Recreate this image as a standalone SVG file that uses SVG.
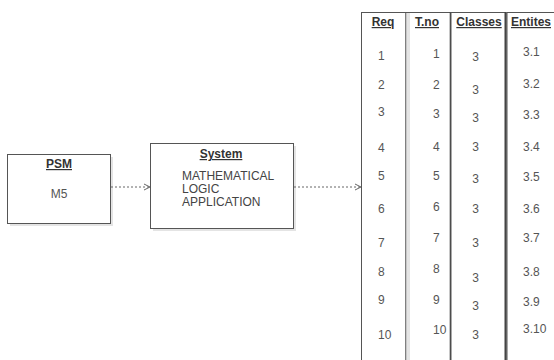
<svg xmlns="http://www.w3.org/2000/svg" width="554" height="360" viewBox="0 0 554 360">
  <defs>
    <marker id="open-arrow" markerWidth="8" markerHeight="8" refX="7" refY="4" orient="auto" markerUnits="userSpaceOnUse">
      <path d="M1,1 L7,4 L1,7" fill="none" stroke="#666" stroke-width="1"/>
    </marker>
  </defs>
  <style>
    .box { fill: #ffffff; stroke: #555555; stroke-width: 1; }
    .shadow { fill: #e4e4e4; }
    .title { font-family: "Liberation Sans", Arial, sans-serif; font-size: 12px; font-weight: bold; fill: #333333; text-decoration: underline; }
    .body { font-family: "Liberation Sans", Arial, sans-serif; font-size: 12px; fill: #444444; }
    .cell { font-family: "Liberation Sans", Arial, sans-serif; font-size: 12px; fill: #555555; }
    .mid { text-anchor: middle; }
    .dep { fill: none; stroke: #666666; stroke-width: 1; stroke-dasharray: 2 2; }
  </style>
  <rect width="554" height="360" fill="#ffffff"/>

  <!-- PSM node -->
  <g id="psm">
    <rect class="shadow" x="10" y="157" width="103" height="69"/>
    <rect class="box" x="7.5" y="154.5" width="103" height="69"/>
    <text class="title mid" x="59" y="168">PSM</text>
    <text class="cell mid" x="59" y="198">M5</text>
  </g>

  <!-- System node -->
  <g id="system">
    <rect class="shadow" x="153" y="146" width="143" height="85"/>
    <rect class="box" x="150.5" y="143.5" width="143" height="85"/>
    <text class="title mid" x="221" y="158">System</text>
    <text class="body" x="182" y="180">MATHEMATICAL</text>
    <text class="body" x="182" y="193">LOGIC</text>
    <text class="body" x="182" y="206">APPLICATION</text>
  </g>

  <!-- Requirement table columns -->
  <g id="col-req">
    <rect class="shadow" x="364" y="15" width="45" height="360"/>
    <rect class="box" x="361.5" y="12.5" width="44.5" height="360"/>
    <text class="title mid" x="383" y="26">Req</text>
    <g class="cell">
      <text x="378" y="60">1</text>
      <text x="378" y="89">2</text>
      <text x="378" y="116">3</text>
      <text x="378" y="152">4</text>
      <text x="378" y="180">5</text>
      <text x="378" y="213">6</text>
      <text x="378" y="247">7</text>
      <text x="378" y="276">8</text>
      <text x="378" y="304">9</text>
      <text x="378" y="339">10</text>
    </g>
  </g>

  <g id="col-tno">
    <rect class="box" x="406" y="12.5" width="44.5" height="360"/>
    <rect class="shadow" x="406.5" y="13" width="3.5" height="360"/>
    <line x1="450.5" y1="12" x2="450.5" y2="360" stroke="#444" stroke-width="1.6"/>
    <text class="title mid" x="427" y="26">T.no</text>
    <g class="cell">
      <text x="433" y="58">1</text>
      <text x="433" y="89">2</text>
      <text x="433" y="118">3</text>
      <text x="433" y="151">4</text>
      <text x="433" y="180">5</text>
      <text x="433" y="211">6</text>
      <text x="433" y="242">7</text>
      <text x="433" y="273">8</text>
      <text x="433" y="304">9</text>
      <text x="433" y="334">10</text>
    </g>
  </g>

  <g id="col-classes">
    <rect class="box" x="451" y="12.5" width="55" height="360"/>
    <line x1="505.5" y1="12" x2="505.5" y2="360" stroke="#444" stroke-width="2"/>
    <text class="title mid" x="479" y="26">Classes</text>
    <g class="cell mid">
      <text x="475.5" y="61">3</text>
      <text x="475.5" y="94">3</text>
      <text x="475.5" y="122">3</text>
      <text x="475.5" y="151">3</text>
      <text x="475.5" y="183">3</text>
      <text x="475.5" y="213">3</text>
      <text x="475.5" y="247">3</text>
      <text x="475.5" y="282">3</text>
      <text x="475.5" y="310">3</text>
      <text x="475.5" y="339">3</text>
    </g>
  </g>

  <g id="col-entities">
    <rect class="box" x="507" y="12.5" width="60" height="360"/>
    <text class="title mid" x="531" y="26">Entites</text>
    <g class="cell">
      <text x="523" y="56">3.1</text>
      <text x="523" y="88">3.2</text>
      <text x="523" y="119">3.3</text>
      <text x="523" y="151">3.4</text>
      <text x="523" y="181">3.5</text>
      <text x="523" y="213">3.6</text>
      <text x="523" y="242">3.7</text>
      <text x="523" y="276">3.8</text>
      <text x="523" y="306">3.9</text>
      <text x="523" y="333">3.10</text>
    </g>
  </g>

  <!-- Dependency connectors -->
  <g id="connectors">
    <line class="dep" x1="111" y1="187" x2="150" y2="187" marker-end="url(#open-arrow)"/>
    <line class="dep" x1="294" y1="187" x2="361" y2="187" marker-end="url(#open-arrow)"/>
  </g>
</svg>
